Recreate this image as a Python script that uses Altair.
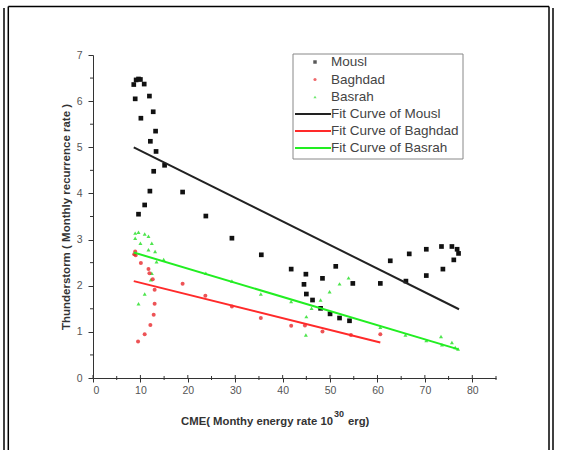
import altair as alt
import pandas as pd

# ---------------- data ----------------
mousl_x = [8.6, 9.1, 9.6, 10.0, 10.8, 8.9, 11.9, 12.7, 10.1, 13.2, 12.1, 13.3, 15.1, 12.8, 12.0,
           18.9, 10.9, 9.6, 23.8, 29.3, 35.5, 41.8, 44.9, 48.4, 51.2, 44.5, 45.0, 46.3, 48.0,
           50.0, 52.0, 54.1, 54.8, 60.6, 62.7, 66.0, 66.7, 70.3, 70.3, 73.5, 73.8, 75.7, 76.8,
           77.1, 76.1]
mousl_y = [6.36, 6.46, 6.48, 6.47, 6.37, 6.05, 6.11, 5.77, 5.63, 5.35, 5.13, 4.91, 4.61, 4.48, 4.05,
           4.03, 3.75, 3.55, 3.51, 3.03, 2.67, 2.36, 2.25, 2.16, 2.42, 2.03, 1.82, 1.69, 1.51,
           1.39, 1.30, 1.24, 2.05, 2.05, 2.54, 2.10, 2.69, 2.79, 2.22, 2.85, 2.36, 2.85, 2.79,
           2.70, 2.56]

baghdad_x = [8.7, 8.9, 9.0, 10.1, 11.7, 11.9, 12.6, 13.0, 18.9, 13.0, 12.8, 12.1, 10.9, 9.5,
             23.7, 29.3, 35.4, 41.8, 44.7, 48.4, 54.4, 60.6]
baghdad_y = [2.68, 2.74, 2.66, 2.49, 2.36, 2.27, 2.14, 1.91, 2.04, 1.61, 1.37, 1.15, 0.95, 0.79,
             1.78, 1.55, 1.30, 1.13, 1.14, 1.01, 0.93, 0.95]

basrah_x = [8.9, 9.6, 10.9, 11.7, 8.9, 10.0, 12.4, 11.7, 13.1, 14.9, 13.4, 12.4, 12.2, 10.9, 9.6,
            23.8, 29.3, 35.4, 41.8, 45.0, 44.9, 46.1, 48.0, 49.9, 52.0, 53.9, 60.6, 65.9, 70.3,
            73.4, 73.6, 75.7, 76.4, 77.0, 8.8]
basrah_y = [3.14, 3.16, 3.12, 3.07, 3.03, 2.92, 2.92, 2.78, 2.74, 2.57, 2.52, 2.27, 2.13, 1.82, 1.61,
            2.27, 2.10, 1.82, 1.66, 1.33, 0.93, 1.51, 1.69, 1.87, 2.04, 2.17, 1.10, 0.93, 0.81,
            0.90, 0.72, 0.77, 0.66, 0.63, 2.70]

fit_names = ["Mousl", "Baghdad", "Basrah"]
fit_x0 = [8.6, 8.6, 8.6]
fit_y0 = [5.00, 2.10, 2.72]
fit_x1 = [77.2, 60.6, 77.1]
fit_y1 = [1.49, 0.77, 0.62]

legend_labels = ["Mousl", "Baghdad", "Basrah", "Fit Curve of Mousl",
                 "Fit Curve of Baghdad", "Fit Curve of Basrah"]

x_major = [0, 10, 20, 30, 40, 50, 60, 70, 80]
x_minor = [5, 15, 25, 35, 45, 55, 65, 75, 85]
y_major = [0, 1, 2, 3, 4, 5, 6, 7]
y_minor = [0.5, 1.5, 2.5, 3.5, 4.5, 5.5, 6.5]

# ---------------- styling ----------------
FONT = "Liberation Sans"
W, H = 403, 323
C_BLACK, C_RED, C_GREEN = "#111111", "#e8282c", "#2fe02f"
L_BLACK, L_RED, L_GREEN = "#222222", "#ff2a2a", "#22ee22"

xs = alt.Scale(domain=[0, 85], nice=False, zero=False)
ys = alt.Scale(domain=[0, 7], nice=False, zero=False)

df_m = pd.DataFrame({"x": mousl_x, "y": mousl_y})
df_b = pd.DataFrame({"x": baghdad_x, "y": baghdad_y})
df_s = pd.DataFrame({"x": basrah_x, "y": basrah_y})

fit_rows = []
for n, a, b, c, d in zip(fit_names, fit_x0, fit_y0, fit_x1, fit_y1):
    fit_rows.append({"name": n, "x": a, "y": b, "o": 0})
    fit_rows.append({"name": n, "x": c, "y": d, "o": 1})
df_fit = pd.DataFrame(fit_rows)

xaxis = alt.Axis(values=x_major, format="d", title=None, grid=False, tickSize=4,
                 labelPadding=3, labelFont=FONT, labelFontSize=10.5, labelColor="#555",
                 domainColor="#333", tickColor="#333", domainWidth=1)
yaxis = alt.Axis(values=y_major, format="d", title="Thunderstorm ( Monthly recurrence rate )",
                 grid=False, tickSize=5, labelPadding=6, labelFont=FONT, labelFontSize=10.5,
                 labelColor="#555", domainColor="#333", tickColor="#333", domainWidth=1,
                 titleFont=FONT, titleFontSize=11.5, titleFontWeight="bold", titleColor="#333",
                 titlePadding=5)

base_axes = alt.Chart(pd.DataFrame({"x": [0], "y": [0]})).mark_point(opacity=0).encode(
    x=alt.X("x:Q", scale=xs, axis=xaxis),
    y=alt.Y("y:Q", scale=ys, axis=yaxis),
)

xminor = alt.Chart(pd.DataFrame({"v": x_minor})).mark_rule(color="#333", strokeWidth=1).encode(
    x=alt.X("v:Q", scale=xs), y=alt.value(H - 2), y2=alt.value(H + 2))
xmaj_in = alt.Chart(pd.DataFrame({"v": x_major})).mark_rule(color="#333", strokeWidth=1).encode(
    x=alt.X("v:Q", scale=xs), y=alt.value(H - 3), y2=alt.value(H))
yminor = alt.Chart(pd.DataFrame({"v": y_minor})).mark_rule(color="#333", strokeWidth=1).encode(
    y=alt.Y("v:Q", scale=ys), x=alt.value(-3), x2=alt.value(0))

fits = alt.Chart(df_fit).mark_line(strokeWidth=2).encode(
    x=alt.X("x:Q", scale=xs), y=alt.Y("y:Q", scale=ys), detail="name:N", order="o:Q",
    color=alt.Color("name:N", scale=alt.Scale(domain=fit_names, range=[L_BLACK, L_RED, L_GREEN]),
                    legend=None))

pts_s = alt.Chart(df_s).mark_point(shape="triangle-up", filled=True, size=16, color=C_GREEN,
                                   opacity=0.85).encode(
    x=alt.X("x:Q", scale=xs), y=alt.Y("y:Q", scale=ys))
pts_b = alt.Chart(df_b).mark_point(shape="circle", filled=True, size=16, color=C_RED,
                                   opacity=0.8).encode(
    x=alt.X("x:Q", scale=xs), y=alt.Y("y:Q", scale=ys))
pts_m = alt.Chart(df_m).mark_point(shape="square", filled=True, size=22, color=C_BLACK,
                                   opacity=1).encode(
    x=alt.X("x:Q", scale=xs), y=alt.Y("y:Q", scale=ys))

# x axis title with superscript
XT_END = 240
xt1 = alt.Chart(pd.DataFrame({"t": ["CME( Monthy energy rate 10"]})).mark_text(
    font=FONT, fontSize=11.3, fontWeight="bold", color="#333", align="right", baseline="alphabetic"
).encode(text="t:N", x=alt.value(XT_END), y=alt.value(370))
xt2 = alt.Chart(pd.DataFrame({"t": ["30"]})).mark_text(
    font=FONT, fontSize=9, fontWeight="bold", color="#333", align="left", baseline="alphabetic"
).encode(text="t:N", x=alt.value(XT_END + 1), y=alt.value(362))
xt3 = alt.Chart(pd.DataFrame({"t": ["erg)"]})).mark_text(
    font=FONT, fontSize=11.3, fontWeight="bold", color="#333", align="left", baseline="alphabetic"
).encode(text="t:N", x=alt.value(XT_END + 15), y=alt.value(370))

# legend (manual)
LX0, LX1, LY0, LY1 = 200, 370, -1, 104
leg_box = alt.Chart(pd.DataFrame({"a": [0]})).mark_rect(
    fill="white", stroke="#888", strokeWidth=1).encode(
    x=alt.value(LX0), x2=alt.value(LX1), y=alt.value(LY0), y2=alt.value(LY1))
rows_y = [7, 24.5, 42, 59, 76, 93]
leg_text = alt.Chart(pd.DataFrame({"t": legend_labels, "yy": rows_y})).mark_text(
    font=FONT, fontSize=13.5, color="#444", align="left", baseline="middle").encode(
    text="t:N", x=alt.value(238), y=alt.Y("yy:Q", scale=None))
leg_m = alt.Chart(pd.DataFrame({"a": [0]})).mark_point(shape="square", filled=True, size=12,
                                                        color=C_BLACK).encode(
    x=alt.value(222), y=alt.value(rows_y[0]))
leg_b = alt.Chart(pd.DataFrame({"a": [0]})).mark_point(shape="circle", filled=True, size=10,
                                                        color=C_RED).encode(
    x=alt.value(222), y=alt.value(rows_y[1]))
leg_s = alt.Chart(pd.DataFrame({"a": [0]})).mark_point(shape="triangle-up", filled=True, size=10,
                                                        color=C_GREEN).encode(
    x=alt.value(222), y=alt.value(rows_y[2]))
leg_lines = [
    alt.Chart(pd.DataFrame({"a": [0]})).mark_rule(color=col, strokeWidth=2).encode(
        x=alt.value(202), x2=alt.value(238), y=alt.value(yy))
    for col, yy in zip([L_BLACK, L_RED, L_GREEN], rows_y[3:])
]

# figure frame
frame = [
    alt.Chart(pd.DataFrame({"a": [0]})).mark_rule(color="#000", strokeWidth=1.5).encode(
        x=alt.value(-89), y=alt.value(-47), y2=alt.value(H + 72)),
    alt.Chart(pd.DataFrame({"a": [0]})).mark_rule(color="#000", strokeWidth=1.5).encode(
        x=alt.value(-84.7), y=alt.value(-48.5), y2=alt.value(H + 72)),
    alt.Chart(pd.DataFrame({"a": [0]})).mark_rule(color="#000", strokeWidth=1.5).encode(
        x=alt.value(-84.7), x2=alt.value(456), y=alt.value(-48.5)),
    alt.Chart(pd.DataFrame({"a": [0]})).mark_rule(color="#000", strokeWidth=1.5).encode(
        x=alt.value(456), y=alt.value(-48.5), y2=alt.value(H + 72)),
    alt.Chart(pd.DataFrame({"a": [0]})).mark_rule(color="#000", strokeWidth=1.5).encode(
        x=alt.value(460), y=alt.value(-47), y2=alt.value(H + 72)),
]

chart = alt.layer(
    base_axes, xminor, xmaj_in, yminor, pts_s, pts_b, pts_m, fits,
    xt1, xt2, xt3, leg_box, leg_text, leg_m, leg_b, leg_s, *leg_lines, *frame
).properties(
    width=W, height=H,
    padding={"left": 93, "top": 55, "right": 68, "bottom": 72},
    autosize=alt.AutoSizeParams(type="none"),
    background="white",
).configure_view(stroke=None)

chart.save("out.html", embed_options={"renderer": "svg", "actions": False})
